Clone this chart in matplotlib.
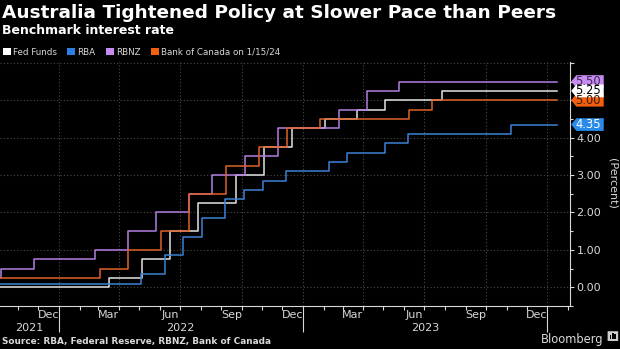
import numpy as np
import pandas as pd
import matplotlib
matplotlib.use("Agg")
import matplotlib.pyplot as plt
import matplotlib.dates as mdates
from matplotlib.patches import Patch, Polygon, FancyBboxPatch

# policy rate paths (effective dates, percent); last point is the 1/15/24 snapshot
fed_dates = ["2021-10-01", "2022-03-17", "2022-05-05", "2022-06-16", "2022-07-28",
             "2022-09-22", "2022-11-03", "2022-12-15", "2023-02-02", "2023-03-23",
             "2023-05-04", "2023-07-27", "2024-01-15"]
fed_rates = [0.00, 0.25, 0.75, 1.50, 2.25, 3.00, 3.75, 4.25, 4.50, 4.75, 5.00, 5.25, 5.25]

rba_dates = ["2021-10-01", "2022-05-04", "2022-06-08", "2022-07-06", "2022-08-03",
             "2022-09-07", "2022-10-05", "2022-11-02", "2022-12-07", "2023-02-08",
             "2023-03-08", "2023-05-03", "2023-06-07", "2023-11-08", "2024-01-15"]
rba_rates = [0.10, 0.35, 0.85, 1.35, 1.85, 2.35, 2.60, 2.85, 3.10, 3.35, 3.60, 3.85, 4.10, 4.35, 4.35]

rbnz_dates = ["2021-10-01", "2021-10-07", "2021-11-25", "2022-02-24", "2022-04-14",
              "2022-05-26", "2022-07-14", "2022-08-18", "2022-10-06", "2022-11-24",
              "2023-02-23", "2023-04-06", "2023-05-25", "2024-01-15"]
rbnz_rates = [0.25, 0.50, 0.75, 1.00, 1.50, 2.00, 2.50, 3.00, 3.50, 4.25, 4.75, 5.25, 5.50, 5.50]

boc_dates = ["2021-10-01", "2022-03-03", "2022-04-14", "2022-06-02", "2022-07-14",
             "2022-09-08", "2022-10-27", "2022-12-08", "2023-01-26", "2023-06-08",
             "2023-07-13", "2024-01-15"]
boc_rates = [0.25, 0.50, 1.00, 1.50, 2.50, 3.25, 3.75, 4.25, 4.50, 4.75, 5.00, 5.00]

names = ["Fed Funds", "RBA", "RBNZ", "Bank of Canada on 1/15/24"]
line_colors = ["#e4e4e4", "#3d82d6", "#b47ee0", "#e0622a"]
badge_colors = ["#ffffff", "#2a8ae8", "#c68af0", "#f2600f"]
badge_text = ["black", "white", "#3a2a48", "#3a1a08"]

bg = "black"
fg = "#d8d8d8"
grid_c = "#4a4a4a"

fig = plt.figure(figsize=(6.2, 3.49), dpi=100, facecolor=bg)
ax = fig.add_axes([0.0, 0.1232, 0.9195, 0.700])
ax.set_facecolor(bg)

series = [(fed_dates, fed_rates), (rba_dates, rba_rates),
          (rbnz_dates, rbnz_rates), (boc_dates, boc_rates)]
for (d, r), c in zip(series, line_colors):
    ax.step(pd.to_datetime(d), r, where="post", color=c, lw=1.1, zorder=3)

ax.set_xlim(pd.Timestamp("2021-10-05"), pd.Timestamp("2024-02-04"))
ax.set_ylim(-0.5, 6.03)

# grid: integers across, quarter starts down
ax.set_yticks(np.arange(0, 7, 1))
ax.set_yticks(np.arange(-0.5, 6.0, 0.5), minor=True)
ax.set_yticklabels(["%.2f" % v if v <= 4 else "" for v in range(7)])
ax.yaxis.tick_right()
ax.tick_params(axis="y", which="both", colors=fg, labelsize=8, length=3, width=0.8, pad=1.5)
ax.tick_params(axis="y", which="minor", length=2)
ax.grid(axis="y", which="major", color=grid_c, ls=(0, (1, 2)), lw=0.8)
for q in pd.date_range("2022-01-01", "2024-01-01", freq="QS"):
    ax.axvline(q, color=grid_c, ls=(0, (1, 2)), lw=0.8, zorder=1)

# x axis: month ticks, year separators, labels in the middle of months
ax.xaxis.set_major_locator(mdates.YearLocator())
ax.xaxis.set_minor_locator(mdates.MonthLocator())
ax.xaxis.set_major_formatter(plt.NullFormatter())
ax.tick_params(axis="x", which="major", colors=fg, length=19, width=0.8)
ax.tick_params(axis="x", which="minor", colors=fg, length=3, width=0.8)

xt = ax.get_xaxis_transform()
for m in pd.date_range("2021-12-01", "2023-12-01", freq="3MS"):
    ax.text(m + pd.Timedelta(days=15), -0.018, m.strftime("%b"), transform=xt,
            ha="center", va="top", color=fg, fontsize=8)
x0 = ax.get_xlim()[0]
year_pos = [mdates.num2date((x0 + mdates.date2num(pd.Timestamp("2022-01-01"))) / 2),
            pd.Timestamp("2022-07-02"), pd.Timestamp("2023-07-02")]
for yp, yl in zip(year_pos, ["2021", "2022", "2023"]):
    ax.text(yp, -0.07, yl, transform=xt, ha="center", va="top", color=fg, fontsize=8)

for s in ["top", "left"]:
    ax.spines[s].set_visible(False)
for s in ["right", "bottom"]:
    ax.spines[s].set_color(fg)
    ax.spines[s].set_linewidth(0.8)

ax.text(1.074, 0.5, "(Percent)", transform=ax.transAxes, rotation=270,
        ha="center", va="center", color=fg, fontsize=8)

# end-value badges, white drawn last so it sits on top
yt = ax.get_yaxis_transform()
last = [r[-1] for r in [fed_rates, rba_rates, rbnz_rates, boc_rates]]
h = 0.17
for i in [2, 3, 0, 1]:
    v = last[i]
    pts = [(1.002, v), (1.011, v + h), (1.059, v + h), (1.059, v - h), (1.011, v - h)]
    ax.add_patch(Polygon(pts, closed=True, transform=yt, clip_on=False,
                         facecolor=badge_colors[i], edgecolor="none", zorder=5))
    ax.text(1.0095, v, "%.2f" % v, transform=yt, ha="left", va="center",
            color=badge_text[i], fontsize=8.3, clip_on=False, zorder=6)

handles = [Patch(facecolor="#ffffff"), Patch(facecolor="#2a7fe0"),
           Patch(facecolor="#c68af0"), Patch(facecolor="#f2600f")]
leg = ax.legend(handles, names, loc="lower left", bbox_to_anchor=(0.0, 1.01), ncol=4,
                frameon=False, fontsize=6.3, handlelength=0.9, handleheight=0.9,
                handletextpad=0.25, columnspacing=1.2, borderaxespad=0.2, borderpad=0.1)
for t in leg.get_texts():
    t.set_color(fg)

fig.text(0.003, 0.988, "Australia Tightened Policy at Slower Pace than Peers",
         color="white", fontsize=13.3, fontweight="bold", va="top", ha="left")
fig.text(0.003, 0.93, "Benchmark interest rate", color="white", fontsize=9,
         fontweight="bold", va="top", ha="left")
fig.text(0.004, 0.01, "Source: RBA, Federal Reserve, RBNZ, Bank of Canada",
         color=fg, fontsize=6.4, fontweight="bold", va="bottom", ha="left")
fig.text(0.973, 0.01, "Bloomberg", color=fg, fontsize=8.3, va="bottom", ha="right")

# small logo tile next to the wordmark
fig.patches.append(FancyBboxPatch((0.981, 0.024), 0.015, 0.026, transform=fig.transFigure,
                                  boxstyle="round,pad=0.001", facecolor="#cfcfcf",
                                  edgecolor="none"))
for bx, bh in zip([0.984, 0.9875, 0.991], [0.010, 0.018, 0.013]):
    fig.patches.append(plt.Rectangle((bx, 0.029), 0.0022, bh, transform=fig.transFigure,
                                     facecolor="black", edgecolor="none"))

fig.savefig("out.png", dpi=100, facecolor=bg)
